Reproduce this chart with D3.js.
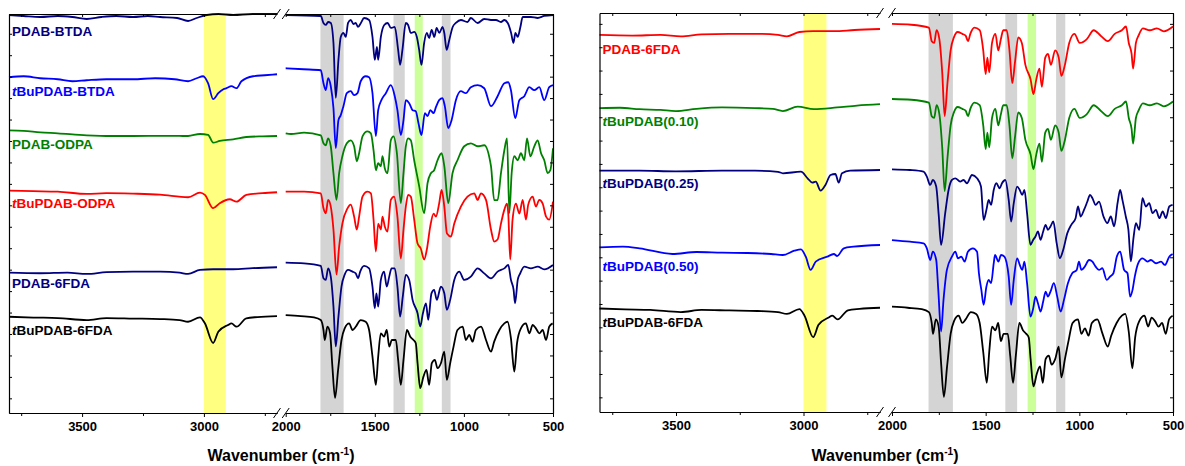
<!DOCTYPE html>
<html>
<head>
<meta charset="utf-8">
<script src="https://cdn.jsdelivr.net/npm/d3@7"></script>
<style>
  body { margin: 0; background: #fff; }
  text { font-family: "Liberation Sans", Arial, sans-serif; }
</style>
</head>
<body>
<svg id="chart" width="1185" height="466"></svg>
<script>
// FTIR spectra, [wavenumber (cm-1), relative transmittance (a.u., 0 = level at 2000 cm-1)]
// "High" = 3800-2700 segment, "Low" = 2000-500 segment

const pdabBtdaHigh = [[3800,0],[3740,-1],[3672,-2],[3600,-1],[3540,-2],[3481,-4],[3420,-2],[3360,-1],[3291,-2],[3230,-1],[3180,-2],[3110,-3],[3065,-6],[3030,-3],[2988,0],[2940,1],[2880,0],[2800,1],[2700,1]];
const pdabBtdaLow = [[2000,0],[1803,-1],[1788,-8],[1775,-10],[1762,-7],[1747,-8],[1732,-28],[1719,-83],[1704,-45],[1691,-22],[1676,-18],[1663,-22],[1650,-8],[1635,-5],[1620,-9],[1607,-8],[1594,-12],[1578,-8],[1560,-3],[1532,-5],[1513,-22],[1500,-45],[1488,-32],[1481,-45],[1466,-22],[1447,-10],[1428,-8],[1410,-13],[1388,-12],[1369,-35],[1358,-50],[1345,-35],[1326,-8],[1313,-10],[1298,-18],[1279,-17],[1264,-22],[1251,-35],[1238,-50],[1223,-28],[1208,-18],[1195,-23],[1181,-15],[1166,-22],[1153,-13],[1138,-18],[1120,-12],[1110,-18],[1097,-35],[1082,-25],[1063,-12],[1045,-8],[1017,-5],[980,-7],[961,-3],[923,-8],[886,-4],[848,-5],[820,-5],[792,-7],[773,-5],[754,-8],[735,-18],[722,-28],[711,-18],[698,-22],[683,-12],[670,-2],[624,-2],[586,-3],[549,-1],[500,0]];

const tBuBtdaHigh = [[3800,-9],[3740,-8],[3672,-10],[3600,-11],[3540,-13],[3481,-12],[3400,-11],[3291,-11],[3200,-10],[3120,-11],[3065,-13],[3030,-10],[3003,-8],[2983,-15],[2962,-31],[2941,-25],[2920,-21],[2907,-20],[2887,-18],[2866,-20],[2846,-13],[2798,-8],[2750,-7],[2700,-6]];
const tBuBtdaLow = [[2000,0],[1900,-1],[1803,-2],[1788,-15],[1775,-22],[1762,-10],[1747,-18],[1732,-40],[1719,-80],[1704,-52],[1691,-47],[1676,-38],[1657,-25],[1635,-23],[1616,-27],[1597,-25],[1579,-13],[1551,-8],[1532,-9],[1513,-25],[1494,-68],[1481,-42],[1463,-32],[1438,-25],[1410,-17],[1388,-28],[1373,-42],[1354,-67],[1339,-52],[1326,-32],[1307,-35],[1288,-42],[1270,-43],[1255,-55],[1238,-67],[1219,-45],[1204,-48],[1189,-42],[1170,-45],[1157,-39],[1139,-32],[1120,-30],[1107,-38],[1088,-60],[1069,-52],[1045,-32],[1017,-23],[989,-25],[961,-19],[923,-17],[886,-20],[848,-38],[811,-28],[773,-15],[751,-14],[736,-22],[712,-50],[689,-32],[661,-28],[633,-19],[605,-22],[577,-19],[549,-32],[521,-19],[500,-17]];

const pdabOdpaHigh = [[3800,3],[3740,2.5],[3672,1],[3600,0],[3481,-2],[3380,-2.7],[3291,-2.7],[3180,-2.5],[3065,-2.7],[3016,-0.7],[2983,-1.5],[2962,-9.4],[2935,-7.7],[2880,-6],[2826,-3.7],[2760,-3],[2700,-2.7]];
const pdabOdpaLow = [[2000,0],[1970,-0.7],[1897,0.7],[1803,-2],[1788,-10],[1775,-12],[1762,-5],[1747,-13],[1732,-40],[1715,-66.7],[1700,-40],[1682,-23],[1657,-10],[1635,-7],[1616,-13],[1601,-28],[1588,-20],[1569,-3],[1541,2],[1522,0],[1507,-17],[1494,-37],[1481,-30],[1466,-33],[1457,-23],[1444,-35],[1429,-40],[1410,-7],[1395,-3],[1376,-20],[1354,-70],[1339,-40],[1326,-13],[1313,-5],[1298,-7],[1279,-27],[1251,-53],[1223,-80],[1204,-50],[1185,-40],[1167,-37],[1148,-27],[1125,-20],[1110,-33],[1088,-70],[1064,-40],[1036,-27],[998,-13],[961,-10],[923,-13],[886,-12],[848,-33],[830,-67],[811,-67],[792,-40],[773,-17],[758,-5],[745,-80],[732,-40],[717,-23],[698,-27],[680,-20],[661,-27],[646,-5],[627,-23],[605,-13],[586,-7],[567,-20],[549,-27],[530,-40],[515,-37],[500,-15]];

const tBuOdpaHigh = [[3800,1],[3700,0.5],[3600,0],[3481,-2.3],[3400,-1.5],[3291,-2],[3180,-3],[3065,-5.6],[3016,-1],[2996,-3.3],[2962,-16.6],[2935,-11.6],[2894,-7.6],[2866,-10],[2826,-3.3],[2760,-1.5],[2700,-0.6]];
const tBuOdpaLow = [[2000,0],[1897,0],[1803,-1.7],[1788,-16.7],[1775,-21.7],[1762,-8.3],[1747,-15],[1732,-38],[1715,-83],[1700,-55],[1682,-32],[1654,-17],[1635,-13],[1616,-25],[1601,-38],[1588,-25],[1569,-5],[1541,0],[1522,-1.7],[1507,-28],[1494,-60],[1481,-32],[1466,-38],[1457,-25],[1444,-35],[1429,-40],[1410,-8.3],[1392,-5],[1373,-25],[1354,-67],[1339,-38],[1326,-15],[1313,-3.3],[1298,-5],[1279,-28],[1260,-52],[1242,-57],[1223,-68],[1208,-58],[1189,-35],[1170,-22],[1157,-25],[1139,-12],[1125,1.7],[1110,-15],[1095,-42],[1073,-45],[1054,-32],[1017,-15],[980,-5],[942,-1.7],[923,-8.3],[904,-1.7],[876,-8.3],[848,-38],[830,-50],[811,-48],[792,-32],[773,-18],[758,-12],[751,-22],[740,-68],[727,-28],[708,-12],[689,-22],[670,-8.3],[652,-28],[639,-13],[614,-5],[596,-15],[577,-8.3],[558,-12],[539,-25],[521,-28],[500,-10]];

const pdab6fdaHigh = [[3800,-10],[3672,-10.6],[3560,-10],[3481,-11.3],[3400,-9.5],[3291,-9],[3180,-9],[3100,-10],[3065,-11.3],[3016,-7.3],[2962,-6.6],[2880,-6.6],[2800,-5.5],[2700,-4.6]];
const pdab6fdaLow = [[2000,0],[1897,-0.7],[1803,-3.3],[1788,-15.7],[1775,-17.3],[1762,-5.7],[1747,-14],[1732,-44],[1719,-84],[1704,-54],[1687,-24],[1669,-12],[1650,-7.3],[1625,-9],[1607,-10.7],[1594,-15.7],[1582,-9],[1560,-3.3],[1532,-5.7],[1513,-24],[1500,-45.7],[1491,-30.7],[1481,-44],[1466,-17.3],[1448,-9],[1433,-24],[1419,-14],[1406,-5.7],[1388,-5.7],[1373,-24],[1358,-54],[1343,-34],[1326,-12.3],[1307,-17.3],[1288,-37.3],[1260,-50.7],[1245,-64],[1230,-50.7],[1213,-40.7],[1200,-57.3],[1182,-30.7],[1167,-27.3],[1152,-37.3],[1129,-24],[1110,-30.7],[1096,-47.3],[1077,-37.3],[1054,-17.3],[1026,-9],[998,-17.3],[961,-14],[923,-5.7],[886,-10.7],[848,-15.7],[811,-9],[773,-5.7],[751,-2.3],[736,-17.3],[721,-27.3],[713,-40.7],[698,-17.3],[684,-10.7],[661,-4],[624,-5.7],[586,-4],[549,-6.7],[500,-2.3]];

const tBu6fdaHigh = [[3800,-1.7],[3700,-2.5],[3600,-3],[3481,-5],[3400,-3],[3291,-3.5],[3180,-4],[3100,-5],[3065,-6.7],[3016,-2.3],[2996,-8.3],[2962,-28],[2941,-16.7],[2901,-10],[2887,-8.3],[2866,-11.7],[2826,-3.3],[2780,-2],[2700,-1]];
const tBu6fdaLow = [[2000,0],[1916,-1],[1841,-2.3],[1803,-5],[1788,-15],[1781,-25],[1766,-11.7],[1751,-18.3],[1738,-51.7],[1723,-83],[1706,-55],[1687,-25],[1669,-13.3],[1644,-8.3],[1625,-15],[1607,-11.7],[1579,-5],[1551,-6.7],[1532,-15],[1513,-41.7],[1494,-70],[1481,-41.7],[1466,-18.3],[1448,-21.7],[1433,-15],[1419,-31.7],[1404,-25],[1382,-25],[1369,-45],[1354,-70],[1339,-45],[1320,-15],[1301,-21.7],[1283,-25],[1270,-28.3],[1260,-48.3],[1245,-73.3],[1227,-61.7],[1210,-55],[1195,-70],[1180,-48.3],[1163,-45],[1148,-53.3],[1129,-48.3],[1110,-36.7],[1096,-65],[1077,-48.3],[1058,-31.7],[1036,-15],[1007,-11.7],[989,-25],[970,-20],[951,-26.7],[933,-15],[904,-11.7],[876,-25],[848,-36.7],[830,-26.7],[801,-15],[773,-8.3],[755,-6.7],[736,-23.3],[717,-56.7],[702,-28.3],[680,-13.3],[652,-8.3],[633,-18.3],[614,-10],[596,-13.3],[577,-18.3],[558,-15],[539,-25],[521,-11.7],[502,-8.3]];

const bu10High = [[3800,-8.3],[3720,-8],[3643,-9.3],[3560,-10],[3501,-11],[3420,-9],[3320,-7.7],[3191,-8.3],[3120,-9],[3081,-11],[3023,-7],[2959,-9.3],[2868,-7.7],[2790,-6],[2700,-4.7]];

const bu25High = [[3800,-1.4],[3643,-1.4],[3501,-2],[3320,-1.4],[3191,-1.4],[3100,-2.5],[3081,-4],[3010,-2.4],[2984,-9],[2965,-13.4],[2952,-12.4],[2933,-21.4],[2914,-15.7],[2894,-5.7],[2875,-4.7],[2862,-13.4],[2849,-4],[2817,-1.4],[2700,-0.7]];
const bu25Low = [[2000,0],[1904,-0.7],[1832,-2.3],[1814,-7.3],[1796,-15.7],[1782,-10.7],[1764,-17.3],[1751,-45],[1738,-75.7],[1716,-44],[1698,-20.7],[1680,-10.7],[1662,-9],[1636,-12.3],[1618,-10.7],[1600,-14],[1573,-5.7],[1546,-9],[1525,-17.3],[1511,-50.7],[1496,-40.7],[1484,-30.7],[1471,-35.7],[1457,-20.7],[1443,-14],[1425,-19],[1413,-14],[1395,-10.7],[1377,-30.7],[1364,-52.3],[1350,-34],[1332,-17.3],[1318,-20.7],[1305,-25.7],[1293,-20.7],[1279,-44],[1261,-75.7],[1246,-70.7],[1234,-67.3],[1221,-62.3],[1207,-70.7],[1193,-62.3],[1180,-55.7],[1168,-60.7],[1154,-57.3],[1139,-52.3],[1121,-74],[1104,-89],[1086,-80.7],[1064,-64],[1043,-55.7],[1020,-49],[1007,-37.3],[993,-47.3],[975,-40.7],[957,-32.3],[943,-25.7],[930,-29],[913,-35.7],[895,-32.3],[871,-47.3],[850,-54],[832,-47.3],[814,-57.3],[796,-34],[782,-20.7],[770,-30.7],[752,-47.3],[738,-60.7],[725,-92.3],[711,-69],[698,-54],[680,-60.7],[663,-29],[645,-37.3],[627,-34],[609,-44],[591,-40.7],[573,-49],[555,-42.3],[538,-49],[520,-37.3],[502,-35.7]];

const bu50High = [[3800,-7.3],[3708,-6.7],[3643,-8.3],[3514,-14],[3420,-12],[3320,-12.7],[3220,-13],[3127,-14],[3081,-15],[3036,-10.7],[3010,-9.3],[2991,-16.7],[2972,-30],[2952,-21.7],[2907,-16.7],[2881,-14],[2868,-16],[2842,-8.3],[2804,-6.7],[2700,-5]];
const bu50Low = [[2000,0],[1904,-1.7],[1832,-3.3],[1814,-8.3],[1796,-20],[1782,-11.7],[1764,-20],[1753,-50],[1738,-91.7],[1725,-60],[1707,-30],[1680,-16.7],[1662,-11.7],[1648,-18.3],[1630,-16.7],[1612,-21.7],[1595,-11.7],[1568,-8.3],[1546,-11.7],[1536,-33.3],[1523,-50],[1511,-65],[1496,-46.7],[1484,-40],[1471,-43.3],[1457,-23.3],[1450,-15],[1432,-21.7],[1418,-15],[1400,-16.7],[1377,-36.7],[1364,-65],[1350,-40],[1332,-18.3],[1318,-25],[1305,-30],[1293,-21.7],[1279,-43.3],[1261,-76.7],[1246,-68.3],[1234,-56.7],[1221,-63.3],[1207,-71.7],[1193,-61.7],[1180,-51.7],[1168,-56.7],[1154,-51.7],[1136,-43.3],[1118,-56.7],[1100,-71.7],[1082,-60],[1061,-43.3],[1038,-33.3],[1014,-30],[1002,-21.7],[989,-30],[971,-26.7],[948,-20],[930,-21.7],[913,-26.7],[895,-30],[877,-28.3],[854,-40],[836,-36.7],[818,-33.3],[800,-16.7],[782,-11.7],[761,-30],[743,-33.3],[729,-56.7],[716,-50],[704,-36.7],[686,-23.3],[663,-18.3],[636,-21.7],[618,-20],[591,-23.3],[564,-21.7],[543,-25],[520,-16.7],[502,-14]];

// stacking offsets (a.u.) and names
const leftNames = ["PDAB-BTDA", "tBuPDAB-BTDA", "PDAB-ODPA", "tBuPDAB-ODPA", "PDAB-6FDA", "tBuPDAB-6FDA"];
const leftOffsets = [399, 345.6, 280.4, 221.9, 150.7, 98.2];
const rightNames = ["PDAB-6FDA", "tBuPDAB(0.10)", "tBuPDAB(0.25)", "tBuPDAB(0.50)", "tBuPDAB-6FDA"];
const rightOffsets = [389, 313.8, 243.3, 172.4, 105.6];

// marked absorption bands (cm-1)
const bandRanges = [[3000, 2910], [1805, 1675], [1395, 1332], [1276, 1231], [1124, 1075]];
const majorTicksHigh = [3500, 3000];
const minorTicksHigh = [3750, 3250, 2750];
const majorTicksLow = [2000, 1500, 1000, 500];
const minorTicksLow = [1750, 1250, 750];

const bandColors = ["#ffff80", "#d4d4d4", "#d4d4d4", "#ccff99", "#d4d4d4"];
const navy = "#000080", blue = "#0000ff", green = "#008000", red = "#ff0000", black = "#000000";

const panels = [
  {
    left: 9, right: 553, top: 14, bottom: 413, breakL: 277, breakR: 285.7, titleX: 281,
    tickStart: 14.7, tickStep: 21.5, tickCount: 18,
    series: [
      {name: leftNames[0], off: leftOffsets[0], high: pdabBtdaHigh, low: pdabBtdaLow, color: navy, gain: 1, ldy: 16},
      {name: leftNames[1], off: leftOffsets[1], high: tBuBtdaHigh, low: tBuBtdaLow, color: blue, gain: 1, ldy: 14},
      {name: leftNames[2], off: leftOffsets[2], high: pdabOdpaHigh, low: pdabOdpaLow, color: green, gain: 1, ldy: 14},
      {name: leftNames[3], off: leftOffsets[3], high: tBuOdpaHigh, low: tBuOdpaLow, color: red, gain: 1, ldy: 13},
      {name: leftNames[4], off: leftOffsets[4], high: pdab6fdaHigh, low: pdab6fdaLow, color: navy, gain: 1, ldy: 11},
      {name: leftNames[5], off: leftOffsets[5], high: tBu6fdaHigh, low: tBu6fdaLow, color: black, gain: 1, ldy: 14}
    ]
  },
  {
    left: 599.5, right: 1173, top: 13, bottom: 412, breakL: 880, breakR: 892, titleX: 885,
    tickStart: 14.7, tickStep: 23.4, tickCount: 17,
    series: [
      {name: rightNames[0], off: rightOffsets[0], high: pdab6fdaHigh, low: pdab6fdaLow, color: red, gain: 1.1, ldy: 14},
      {name: rightNames[1], off: rightOffsets[1], high: bu10High, low: pdab6fdaLow, color: green, gain: 1.1, ldy: 13},
      {name: rightNames[2], off: rightOffsets[2], high: bu25High, low: bu25Low, color: navy, gain: 1, ldy: 13},
      {name: rightNames[3], off: rightOffsets[3], high: bu50High, low: bu50Low, color: blue, gain: 1, ldy: 19},
      {name: rightNames[4], off: rightOffsets[4], high: tBu6fdaHigh, low: tBu6fdaLow, color: black, gain: 1.09, ldy: 14}
    ]
  }
];

const svg = d3.select("#chart");

function drawPanel(p) {
  const xHigh = d3.scaleLinear().domain([3800, 2700]).range([p.left, p.breakL]);
  const xLow = d3.scaleLinear().domain([2000, 500]).range([p.breakR, p.right]);
  const x = w => w > 2350 ? xHigh(w) : xLow(w);
  const y = d3.scaleLinear().domain([0, 400]).range([p.bottom, p.top]);
  const g = svg.append("g");

  // shaded bands
  g.selectAll("rect.band")
    .data(bandRanges)
    .enter()
    .append("rect")
    .attr("class", "band")
    .attr("x", d => x(d[0]))
    .attr("width", d => x(d[1]) - x(d[0]))
    .attr("y", p.top)
    .attr("height", p.bottom - p.top)
    .attr("fill", (d, i) => bandColors[i]);

  // spectra
  p.series.forEach(s => {
    const line = d3.line()
      .x(d => x(d[0]))
      .y(d => y(s.off + s.gain * d[1]))
      .curve(d3.curveMonotoneX);
    [s.high, s.low].forEach(seg => {
      g.append("path")
        .attr("d", line(seg))
        .attr("fill", "none")
        .attr("stroke", s.color)
        .attr("stroke-width", 1.8)
        .attr("stroke-linejoin", "round");
    });

    const t = g.append("text")
      .attr("x", p.left + 3)
      .attr("y", y(s.off + s.gain * s.high[0][1]) + s.ldy)
      .attr("dy", "0.35em")
      .style("font-size", "13.5px")
      .style("font-weight", "bold")
      .style("fill", s.color);
    if (s.name.startsWith("t")) {
      t.append("tspan").style("font-style", "italic").text("t");
      t.append("tspan").text(s.name.slice(1));
    } else {
      t.text(s.name);
    }
  });

  // bottom axis, two segments
  const styleAxis = sel => {
    sel.select(".domain").attr("stroke", "#000").attr("stroke-width", 1.2);
    sel.selectAll(".tick line").attr("stroke", "#000");
    sel.selectAll(".tick text").style("font-size", "13px").style("font-weight", "bold")
      .style("font-family", '"Liberation Sans", Arial, sans-serif');
  };
  [[xHigh, majorTicksHigh, minorTicksHigh], [xLow, majorTicksLow, minorTicksLow]].forEach(([sc, maj, mnr]) => {
    g.append("g")
      .attr("transform", "translate(0," + p.bottom + ")")
      .call(d3.axisBottom(sc).tickValues(maj).tickSizeInner(4).tickSizeOuter(0).tickPadding(5).tickFormat(d3.format("d")))
      .call(styleAxis);
    g.append("g")
      .attr("transform", "translate(0," + p.bottom + ")")
      .call(d3.axisBottom(sc).tickValues(mnr).tickSizeInner(3).tickSizeOuter(0).tickFormat(""))
      .call(styleAxis);
    g.append("g")
      .attr("transform", "translate(0," + p.top + ")")
      .call(d3.axisTop(sc).tickValues(maj.concat(mnr)).tickSizeInner(-3).tickSizeOuter(0).tickFormat(""))
      .call(styleAxis);
  });

  // left/right axes with inward ticks
  const yTicks = d3.range(p.tickCount).map(i => p.tickStart + i * p.tickStep);
  g.append("g")
    .attr("transform", "translate(" + p.left + ",0)")
    .call(d3.axisLeft(y).tickValues(yTicks).tickSizeInner(-3).tickSizeOuter(0).tickFormat(""))
    .call(styleAxis);
  g.append("g")
    .attr("transform", "translate(" + p.right + ",0)")
    .call(d3.axisRight(y).tickValues(yTicks).tickSizeInner(-3).tickSizeOuter(0).tickFormat(""))
    .call(styleAxis);

  // axis break marks
  [p.top, p.bottom].forEach(yy => {
    [p.breakL, p.breakR].forEach(xx => {
      g.append("line")
        .attr("x1", xx - 3.5).attr("y1", yy + 5)
        .attr("x2", xx + 3.5).attr("y2", yy - 5)
        .attr("stroke", "#000").attr("stroke-width", 1);
    });
  });

  // axis title
  const title = g.append("text")
    .attr("x", p.titleX)
    .attr("y", 461)
    .attr("text-anchor", "middle")
    .style("font-size", "16px")
    .style("font-weight", "bold");
  title.append("tspan").text("Wavenumber (cm");
  title.append("tspan").attr("dy", -6).style("font-size", "10px").text("-1");
  title.append("tspan").attr("dy", 6).text(")");
}

panels.forEach(drawPanel);
</script>
</body>
</html>
